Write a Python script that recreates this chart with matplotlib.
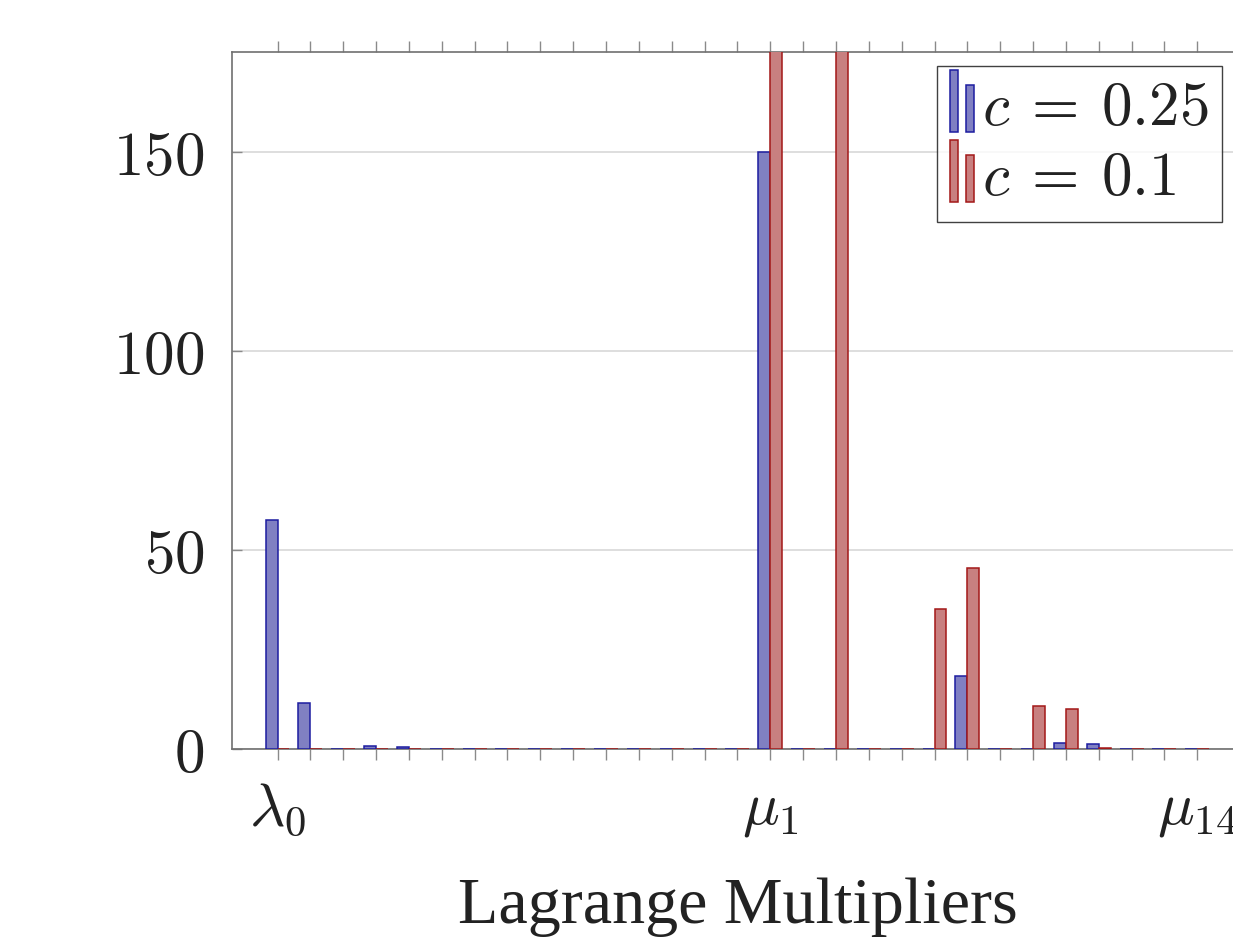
import matplotlib
matplotlib.use("Agg")
import matplotlib.pyplot as plt
import numpy as np
from matplotlib.patches import Rectangle
from matplotlib.legend_handler import HandlerBase

plt.rcParams['mathtext.fontset'] = 'cm'

# ---- data ----
categories = [r'$\lambda_{%d}$' % i for i in range(15)] + [r'$\mu_{%d}$' % i for i in range(1, 15)]
shown_labels = {0: r'$\lambda_0$', 15: r'$\mu_1$', 28: r'$\mu_{14}$'}
c025 = [57.5, 11.6, 0, 0.8, 0.4, 0, 0, 0, 0, 0, 0, 0, 0, 0, 0,
        150, 0, 0, 0, 0, 0, 18.4, 0, 0, 1.6, 1.2, 0, 0, 0]
c01 = [0, 0, 0, 0, 0, 0, 0, 0, 0, 0, 0, 0, 0, 0, 0,
       260, 0, 240, 0, 0, 35.2, 45.5, 0, 10.9, 10.0, 0.25, 0, 0, 0]
yticks = [0, 50, 100, 150]
series_labels = [r'$c\:=\:0.25$', r'$c\:=\:0.1$']

blue_fill, blue_edge = '#8080c2', '#1c1ca0'
red_fill, red_edge = '#c88080', '#a31818'

W, H = 1233, 947
fig = plt.figure(figsize=(W / 100, H / 100), dpi=100)

step = 32.85
left_px, right_px = 232, 1243
x0_px = 277.5
ax = fig.add_axes([left_px / W, (H - 749) / H, (right_px - left_px) / W, (749 - 52) / H])

x = np.arange(len(categories))
w = 0.365
ax.bar(x - w / 2, c025, width=w, color=blue_fill, edgecolor=blue_edge, linewidth=1.1, zorder=3)
ax.bar(x + w / 2, c01, width=w, color=red_fill, edgecolor=red_edge, linewidth=1.1, zorder=3)

ax.set_xlim((left_px - x0_px) / step, (right_px - x0_px) / step)
ax.set_ylim(0, 175)

ax.set_xticks(x)
ax.set_xticklabels([shown_labels.get(i, '') for i in range(len(categories))], fontsize=44)
ax.set_yticks(yticks)
ax.set_yticklabels([r'$%d$' % v for v in yticks], fontsize=44)

ax.tick_params(axis='x', which='both', direction='out', length=8, width=1, color='#8a8a8a',
               top=True, bottom=True, pad=14)
ax.tick_params(axis='y', direction='in', length=7, width=1, color='#8a8a8a', pad=20,
               left=True, right=False)
ax.yaxis.grid(True, color='#d4d4d4', linewidth=1.1, zorder=0)
ax.set_axisbelow(True)
for s in ax.spines.values():
    s.set_color('#707070')
    s.set_linewidth(1.2)
for lab in ax.get_xticklabels() + ax.get_yticklabels():
    lab.set_color('#222222')

ax.set_xlabel('Lagrange Multipliers', family='Liberation Serif', fontsize=47.5, color='#222222',
              labelpad=28)


class TwoBarHandler(HandlerBase):
    def __init__(self, fc, ec):
        super().__init__()
        self.fc, self.ec = fc, ec

    def create_artists(self, legend, orig_handle, xdescent, ydescent, width, height, fontsize, trans):
        bw = width * 0.33
        base = -ydescent - height * 0.15
        r1 = Rectangle((-xdescent, base), bw, height * 1.45,
                       facecolor=self.fc, edgecolor=self.ec, linewidth=1.1, transform=trans)
        r2 = Rectangle((-xdescent + width * 0.67, base), bw, height * 1.1,
                       facecolor=self.fc, edgecolor=self.ec, linewidth=1.1, transform=trans)
        return [r1, r2]


h1 = Rectangle((0, 0), 1, 1)
h2 = Rectangle((0, 0), 1, 1)
leg = ax.legend([h1, h2], series_labels, loc='upper right', bbox_to_anchor=(0.979, 0.98),
                borderaxespad=0, fontsize=44, frameon=True, fancybox=False,
                handler_map={h1: TwoBarHandler(blue_fill, blue_edge),
                             h2: TwoBarHandler(red_fill, red_edge)},
                handlelength=0.4, handletextpad=0.12, borderpad=0.22, labelspacing=0.18)
leg.get_frame().set_edgecolor('#111111')
leg.get_frame().set_linewidth(1.0)
for t in leg.get_texts():
    t.set_color('#222222')

fig.savefig('out.png', dpi=100)
